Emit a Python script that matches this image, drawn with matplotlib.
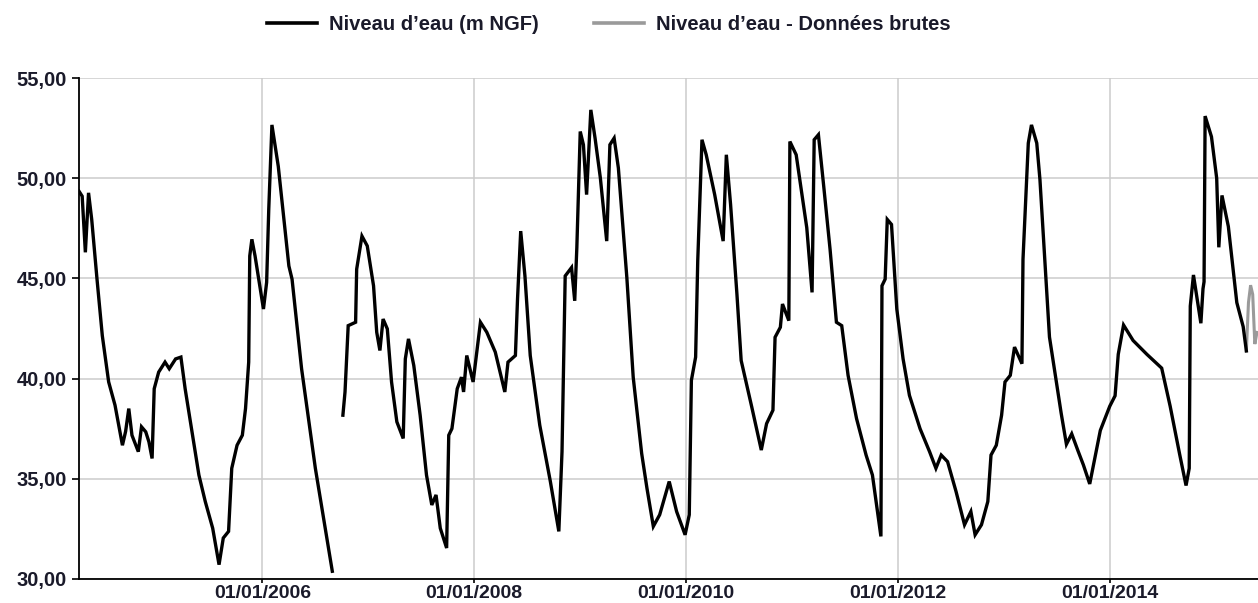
import numpy as np
import pandas as pd
import matplotlib
matplotlib.use('Agg')
import matplotlib.pyplot as plt
import matplotlib.dates as mdates
from matplotlib.ticker import FuncFormatter
from matplotlib.lines import Line2D

# Niveau d'eau (m NGF) - dates en années décimales
annees = [2004.27, 2004.30, 2004.33, 2004.36, 2004.39, 2004.44, 2004.49, 2004.55, 2004.61, 2004.68,
          2004.71, 2004.74, 2004.77, 2004.83, 2004.86, 2004.90, 2004.93, 2004.96, 2004.98, 2005.02,
          2005.08, 2005.12, 2005.18, 2005.23, 2005.27, 2005.34, 2005.40, 2005.46, 2005.53, 2005.59,
          2005.63, 2005.68, 2005.71, 2005.76, 2005.81, 2005.84, 2005.87, 2005.88, 2005.90, 2005.93,
          2006.01, 2006.04, 2006.06, 2006.09, 2006.15, 2006.25, 2006.28, 2006.37, 2006.50, 2006.66,
          2006.71,
          2006.76, 2006.78, 2006.81, 2006.88, 2006.89, 2006.94, 2006.99, 2007.05, 2007.08, 2007.11,
          2007.14, 2007.18, 2007.22, 2007.27, 2007.33, 2007.35, 2007.38, 2007.43, 2007.49, 2007.55,
          2007.60, 2007.64, 2007.68, 2007.74, 2007.76, 2007.79, 2007.84, 2007.88, 2007.90, 2007.93,
          2007.99, 2008.06, 2008.12, 2008.20, 2008.29, 2008.32, 2008.39, 2008.41, 2008.44, 2008.48,
          2008.53, 2008.62, 2008.72, 2008.80, 2008.83, 2008.86, 2008.92, 2008.95, 2008.97, 2009.00,
          2009.03, 2009.06, 2009.10, 2009.14, 2009.19, 2009.25, 2009.28, 2009.32, 2009.36, 2009.44,
          2009.50, 2009.58, 2009.63, 2009.69, 2009.75, 2009.84, 2009.91, 2009.99, 2010.03, 2010.05,
          2010.09, 2010.11, 2010.15, 2010.19, 2010.27, 2010.35, 2010.38, 2010.42, 2010.48, 2010.52,
          2010.62, 2010.71, 2010.76, 2010.82, 2010.84, 2010.89, 2010.91, 2010.97, 2010.98, 2011.04,
          2011.14, 2011.19, 2011.21, 2011.25, 2011.30, 2011.36, 2011.42, 2011.47, 2011.53, 2011.61,
          2011.70, 2011.76, 2011.84, 2011.85, 2011.88, 2011.90, 2011.94, 2011.99, 2012.05, 2012.11,
          2012.21, 2012.30, 2012.36, 2012.41, 2012.47, 2012.55, 2012.63, 2012.69, 2012.73, 2012.79,
          2012.85, 2012.88, 2012.93, 2012.98, 2013.01, 2013.06, 2013.10, 2013.17, 2013.18, 2013.23,
          2013.26, 2013.31, 2013.34, 2013.43, 2013.48, 2013.54, 2013.59, 2013.64, 2013.70, 2013.75,
          2013.81, 2013.91, 2014.00, 2014.05, 2014.08, 2014.13, 2014.22, 2014.35, 2014.49, 2014.57,
          2014.66, 2014.72, 2014.75, 2014.76, 2014.79, 2014.86, 2014.88, 2014.89, 2014.90, 2014.96,
          2015.01, 2015.03, 2015.06, 2015.12, 2015.20, 2015.26, 2015.29]
niveaux = [49.35, 49.10, 46.30, 49.27, 47.94, 44.96, 42.14, 39.83, 38.67, 36.67,
           37.36, 38.50, 37.17, 36.35, 37.59, 37.34, 36.84, 36.01, 39.49, 40.32,
           40.82, 40.49, 40.98, 41.07, 39.49, 37.17, 35.18, 33.86, 32.53, 30.71,
           32.04, 32.37, 35.52, 36.67, 37.17, 38.50, 40.82, 46.12, 46.95, 46.12,
           43.47, 44.80, 48.44, 52.66, 50.59, 45.62, 44.96, 40.49, 35.52, 30.38,
           np.nan,
           38.17, 39.33, 42.64, 42.81, 45.46, 47.11, 46.62, 44.63, 42.31, 41.40,
           42.97, 42.48, 39.83, 37.84, 37.01, 40.98, 41.98, 40.65, 38.17, 35.18,
           33.69, 34.19, 32.53, 31.54, 37.17, 37.50, 39.49, 40.07, 39.33, 41.15,
           39.83, 42.81, 42.31, 41.32, 39.33, 40.82, 41.15, 43.97, 47.36, 45.12,
           41.15, 37.67, 34.86, 32.37, 36.35, 45.12, 45.54, 43.88, 46.54, 52.33,
           51.67, 49.18, 53.41, 52.00, 50.01, 46.86, 51.67, 52.00, 50.51, 45.04,
           40.07, 36.26, 34.52, 32.62, 33.20, 34.86, 33.36, 32.20, 33.20, 39.91,
           41.07, 45.87, 51.92, 51.17, 49.18, 46.86, 51.17, 48.69, 44.21, 40.90,
           38.58, 36.43, 37.75, 38.42, 42.06, 42.56, 43.72, 42.89, 51.83, 51.17,
           47.53, 44.30, 51.92, 52.17, 49.60, 46.45, 42.81, 42.64, 40.16, 38.00,
           36.18, 35.18, 32.12, 44.63, 44.96, 47.94, 47.69, 43.47, 40.98, 39.16,
           37.50, 36.35, 35.52, 36.18, 35.85, 34.36, 32.70, 33.36, 32.20, 32.70,
           33.86, 36.18, 36.67, 38.17, 39.83, 40.16, 41.57, 40.74, 45.95, 51.75,
           52.66, 51.75, 49.93, 42.07, 40.34, 38.28, 36.72, 37.24, 36.38, 35.69,
           34.74, 37.41, 38.62, 39.14, 41.21, 42.67, 41.90, 41.21, 40.52, 38.62,
           36.21, 34.66, 35.52, 43.62, 45.17, 42.76, 44.48, 44.83, 53.10, 52.07,
           50.00, 46.55, 49.14, 47.59, 43.79, 42.59, 41.38]

# Niveau d'eau - Données brutes
annees_brutes = [2015.29, 2015.31, 2015.33, 2015.35, 2015.37, 2015.39]
niveaux_brutes = [41.38, 43.79, 44.66, 44.20, 41.72, 42.30]

y_ticks = [30, 35, 40, 45, 50, 55]
label_1 = "Niveau d\u2019eau (m NGF)"
label_2 = "Niveau d\u2019eau - Données brutes"


def vers_date(a):
    an = int(a)
    return pd.Timestamp(year=an, month=1, day=1) + pd.Timedelta(days=(a - an) * 365.25)


dates = [vers_date(a) for a in annees]
dates_brutes = [vers_date(a) for a in annees_brutes]

txt_color = '#1a1a2a'
plt.rcParams['font.family'] = ['Liberation Sans', 'DejaVu Sans']

fig = plt.figure(figsize=(12.58, 6.03), dpi=100)
ax = fig.add_axes([0.0628, 0.0400, 0.9372, 0.8306])

ax.plot(dates_brutes, niveaux_brutes, color='#9a9a9a', lw=2.2, solid_joinstyle='miter')
ax.plot(dates, niveaux, color='black', lw=2.4, solid_joinstyle='miter')

ax.set_xlim(vers_date(2004.27), vers_date(2015.40))
ax.set_ylim(30, 55)
ax.set_yticks(y_ticks)
ax.yaxis.set_major_formatter(FuncFormatter(lambda v, p: f"{v:.2f}".replace('.', ',')))
ax.xaxis.set_major_locator(mdates.YearLocator(2))
ax.xaxis.set_major_formatter(mdates.DateFormatter('%d/%m/%Y'))

ax.grid(True, color='#cccccc', lw=1.1)
ax.set_axisbelow(True)
for s in ['top', 'right']:
    ax.spines[s].set_visible(False)
for s in ['left', 'bottom']:
    ax.spines[s].set_color('black')
    ax.spines[s].set_linewidth(1.3)

ax.tick_params(axis='y', length=5, width=1.2, pad=4, labelsize=14.5, labelcolor=txt_color)
ax.tick_params(axis='x', length=3, width=1.2, pad=1.5, labelsize=14, labelcolor=txt_color)
for lab in ax.get_xticklabels() + ax.get_yticklabels():
    lab.set_fontweight('bold')

handles = [Line2D([], [], color='black', lw=2.6), Line2D([], [], color='#9a9a9a', lw=2.6)]
leg = fig.legend(handles, [label_1, label_2], loc='upper center', bbox_to_anchor=(0.484, 1.005),
                 ncol=2, frameon=False, handlelength=2.5, handletextpad=0.6, columnspacing=2.7,
                 prop={'weight': 'bold', 'size': 14.5})
for t in leg.get_texts():
    t.set_color(txt_color)

fig.savefig('out.png', dpi=100)
